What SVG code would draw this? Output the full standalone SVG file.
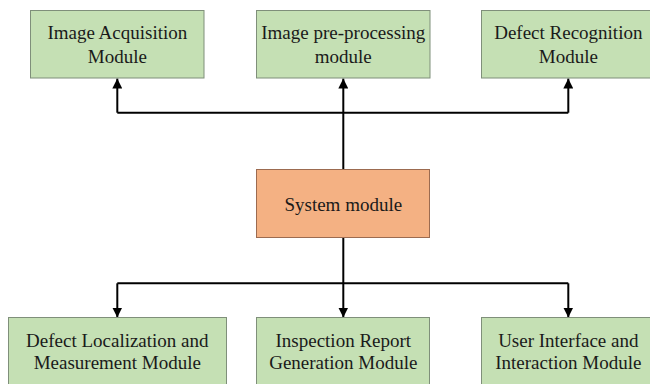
<svg xmlns="http://www.w3.org/2000/svg" width="650" height="384" viewBox="0 0 650 384">
  <defs>
    <marker id="arrow" viewBox="0 0 10 10" refX="10" refY="5" markerWidth="10" markerHeight="10" markerUnits="userSpaceOnUse" orient="auto">
      <path d="M0,0 L10,5 L0,10 z" fill="#000"/>
    </marker>
    <style>
      .mod { fill: #c5e0b4; stroke: #7f8f7a; stroke-width: 1; }
      .sys { fill: #f4b183; stroke: #9c6b50; stroke-width: 1; }
      .lbl { font-family: "Liberation Serif", "Times New Roman", "DejaVu Serif", serif; font-size: 19px; fill: #1a1a1a; text-anchor: middle; }
      .wire { fill: none; stroke: #000; stroke-width: 2; }
    </style>
  </defs>
  <rect width="650" height="384" fill="#fff"/>

  <g id="connectors">
    <path class="wire" d="M343.3,169 V112.7"/>
    <path class="wire" d="M117.3,112.7 H568.3"/>
    <path class="wire" d="M117.3,112.7 V78.5" marker-end="url(#arrow)"/>
    <path class="wire" d="M343.3,112.7 V78.5" marker-end="url(#arrow)"/>
    <path class="wire" d="M568.3,112.7 V78.5" marker-end="url(#arrow)"/>
    <path class="wire" d="M343.3,237.7 V317.5" marker-end="url(#arrow)"/>
    <path class="wire" d="M117.3,283.3 H568.3"/>
    <path class="wire" d="M117.3,283.3 V317.5" marker-end="url(#arrow)"/>
    <path class="wire" d="M568.3,283.3 V317.5" marker-end="url(#arrow)"/>
  </g>

  <g id="image-acquisition">
    <rect class="mod" x="30.5" y="10.5" width="173.5" height="67.5"/>
    <text class="lbl" x="117.3" y="38.5">Image Acquisition</text>
    <text class="lbl" x="117.3" y="62.5">Module</text>
  </g>
  <g id="image-preprocessing">
    <rect class="mod" x="256.5" y="10.5" width="173.5" height="67.5"/>
    <text class="lbl" x="343.3" y="38.5">Image pre-processing</text>
    <text class="lbl" x="343.3" y="62.5">module</text>
  </g>
  <g id="defect-recognition">
    <rect class="mod" x="481.5" y="10.5" width="173.5" height="67.5"/>
    <text class="lbl" x="568.3" y="38.5">Defect Recognition</text>
    <text class="lbl" x="568.3" y="62.5">Module</text>
  </g>

  <g id="system-module">
    <rect class="sys" x="256.5" y="169.5" width="173" height="68"/>
    <text class="lbl" x="343.3" y="210.5">System module</text>
  </g>

  <g id="defect-localization">
    <rect class="mod" x="8.5" y="317.5" width="218" height="72"/>
    <text class="lbl" x="117.3" y="346.5">Defect Localization and</text>
    <text class="lbl" x="117.3" y="369">Measurement Module</text>
  </g>
  <g id="inspection-report">
    <rect class="mod" x="256.5" y="317.5" width="173" height="72"/>
    <text class="lbl" x="343.3" y="346.5">Inspection Report</text>
    <text class="lbl" x="343.3" y="369">Generation Module</text>
  </g>
  <g id="user-interface">
    <rect class="mod" x="481.5" y="317.5" width="173.5" height="72"/>
    <text class="lbl" x="568.3" y="346.5">User Interface and</text>
    <text class="lbl" x="568.3" y="369">Interaction Module</text>
  </g>
</svg>
